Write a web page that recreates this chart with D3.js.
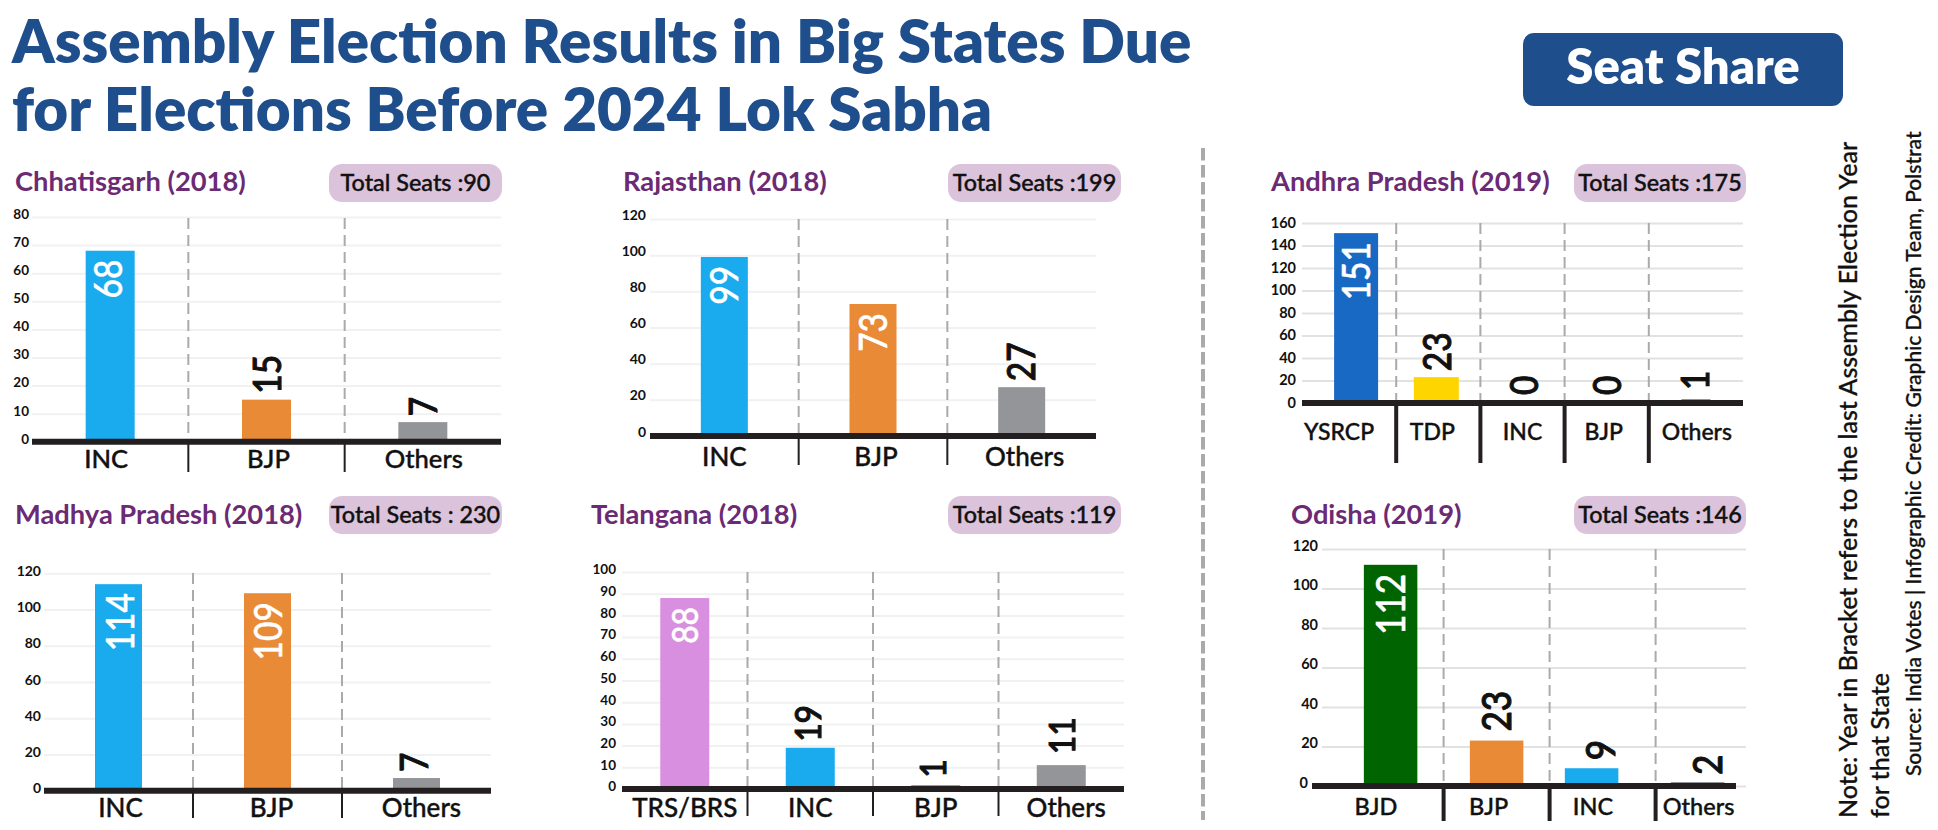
<!DOCTYPE html>
<html>
<head>
<meta charset="utf-8">
<script src="https://cdn.jsdelivr.net/npm/d3@7"></script>
<style>
body { margin: 0; background: #fff; }
svg { display: block; }
text { font-family: Lato, sans-serif; }
</style>
</head>
<body>
<script>
var w = 1938;
var h = 830;

//Seats per party, one set of arrays per state
var chhattisgarhParties = ["INC", "BJP", "Others"];
var chhattisgarhSeats = [68, 15, 7];
var chhattisgarhTicks = [0, 10, 20, 30, 40, 50, 60, 70, 80];

var rajasthanParties = ["INC", "BJP", "Others"];
var rajasthanSeats = [99, 73, 27];
var rajasthanTicks = [0, 20, 40, 60, 80, 100, 120];

var andhraParties = ["YSRCP", "TDP", "INC", "BJP", "Others"];
var andhraSeats = [151, 23, 0, 0, 1];
var andhraTicks = [0, 20, 40, 60, 80, 100, 120, 140, 160];

var madhyaParties = ["INC", "BJP", "Others"];
var madhyaSeats = [114, 109, 7];
var madhyaTicks = [0, 20, 40, 60, 80, 100, 120];

var telanganaParties = ["TRS/BRS", "INC", "BJP", "Others"];
var telanganaSeats = [88, 19, 1, 11];
var telanganaTicks = [0, 10, 20, 30, 40, 50, 60, 70, 80, 90, 100];

var odishaParties = ["BJD", "BJP", "INC", "Others"];
var odishaSeats = [112, 23, 9, 2];
var odishaTicks = [0, 20, 40, 60, 80, 100, 120];

var partyColors = {
    INC: "#1aaaee", BJP: "#e88a36", Others: "#939598", YSRCP: "#1769c4",
    TDP: "#ffd500", "TRS/BRS": "#d98fe0", BJD: "#006400"
};

var titleLines = ["Assembly Election Results in Big States Due", "for Elections Before 2024 Lok Sabha"];
var noteLines = [
    "Note: Year in Bracket refers to the last Assembly Election Year",
    "for that State",
    "Source: India Votes | Infographic Credit: Graphic Design Team, Polstrat"
];

//Layout of each small chart
var panels = [
    { title: "Chhatisgarh (2018)", total: "Total Seats :90", parties: chhattisgarhParties, seats: chhattisgarhSeats, ticks: chhattisgarhTicks,
      titleX: 15, titleY: 191, pill: [329, 502, 164], band: [32, 501], axis: [32, 501], grid: [32, 501], y: [441.8, 217], max: 80,
      barW: 49, fs: 38, tickFs: 13.5, tickX: 29, tickDy: -3.5, gridColor: "#f1f1f1", ruleW: 2, ruleEnd: 472, labelY: 459, labelFs: 25.6,
      labelDx: [-4, 2, 1], valDx: [-2, 1, 0], dashFrom: 218 },
    { title: "Rajasthan (2018)", total: "Total Seats :199", parties: rajasthanParties, seats: rajasthanSeats, ticks: rajasthanTicks,
      titleX: 623, titleY: 191, pill: [948, 1121, 164], band: [650, 1096], axis: [650, 1096], grid: [650, 1096], y: [436, 219], max: 120,
      barW: 47, fs: 38, tickFs: 14, tickX: 646, tickDy: -5, gridColor: "#f1f1f1", ruleW: 2, ruleEnd: 465, labelY: 457, labelFs: 26,
      labelDx: [0, 3, 3], valDx: [0, 0, 0], dashFrom: 219 },
    { title: "Andhra Pradesh (2019)", total: "Total Seats :175", parties: andhraParties, seats: andhraSeats, ticks: andhraTicks,
      titleX: 1271, titleY: 191, pill: [1574, 1746, 164], band: [1312, 1733], axis: [1302, 1743], grid: [1302, 1743], y: [403, 223], max: 160,
      barW: [44, 45, 44, 44, 29], fs: 38, tickFs: 14.5, tickX: 1296, tickDy: -1, gridColor: "#e2e2e2", ruleW: 4, ruleEnd: 463, labelY: 431, labelFs: 23,
      labelDx: [-15, -6, 0, -3, 6], valDx: [2, -1, 2, 1, 4], barDx: [2, -2, 0, 0, 5], valGap: [6, 6, 8, 8, 12], dashFrom: 223 },
    { title: "Madhya Pradesh (2018)", total: "Total Seats : 230", parties: madhyaParties, seats: madhyaSeats, ticks: madhyaTicks,
      titleX: 15, titleY: 524, pill: [329, 502, 496], band: [44, 491], axis: [44, 491], grid: [44, 491], y: [790.7, 573.3], max: 120,
      barW: 47, fs: 38, tickFs: 14, tickX: 41, tickDy: -3, gridColor: "#f1f1f1", ruleW: 2, ruleEnd: 818, labelY: 808, labelFs: 26,
      labelDx: [2, 4, 5], valDx: [2, 1, -2], dashFrom: 573 },
    { title: "Telangana (2018)", total: "Total Seats :119", parties: telanganaParties, seats: telanganaSeats, ticks: telanganaTicks,
      titleX: 591, titleY: 524, pill: [948, 1121, 496], band: [622, 1124], axis: [622, 1124], grid: [622, 1124], y: [789, 572], max: 100,
      barW: 49, fs: 36, tickFs: 13.5, tickX: 616, tickDy: -3, gridColor: "#f1f1f1", ruleW: 2, ruleEnd: 816, labelY: 808, labelFs: 26,
      labelDx: [0, 0, 0, 5], valDx: [0, -2, -3, 1], valGap: [6, 6, 9, 11], dashFrom: 572 },
    { title: "Odisha (2019)", total: "Total Seats :146", parties: odishaParties, seats: odishaSeats, ticks: odishaTicks,
      titleX: 1291, titleY: 524, pill: [1574, 1746, 496], band: [1337.6, 1761.6], axis: [1312, 1736], grid: [1322, 1746], y: [786, 549], max: 120,
      barW: 53.5, fs: 40, tickFs: 14.5, tickX: 1318, tickDy: -4, gridColor: "#e2e2e2", ruleW: 4, ruleEnd: 821, labelY: 806, labelFs: 23.5,
      labelDx: [-14.6, -8, -9.6, -10], valDx: [0, 0, -2, -1], barDx: [0, 0, -11, -11], valGap: [6, 9, 8, 7], zeroDx: -10, dashFrom: 549 }
];

var svg = d3.select("body")
    .append("svg")
    .attr("width", w)
    .attr("height", h);

//Headline
svg.selectAll("text.headline")
    .data(titleLines)
    .enter()
    .append("text")
    .attr("class", "headline")
    .attr("x", 12)
    .attr("y", function (d, i) { return 63 + i * 68; })
    .attr("font-size", 60.1)
    .attr("font-weight", 800)
    .attr("fill", "#1f4e8c")
    .text(function (d) { return d; });

//Seat Share button
svg.append("rect")
    .attr("x", 1523)
    .attr("y", 33)
    .attr("width", 320)
    .attr("height", 73)
    .attr("rx", 11)
    .attr("fill", "#1f4e8c");
svg.append("text")
    .attr("x", 1683)
    .attr("y", 84)
    .attr("text-anchor", "middle")
    .attr("font-size", 49)
    .attr("font-weight", 800)
    .attr("fill", "#fff")
    .text("Seat Share");

//Centre divider
svg.append("line")
    .attr("x1", 1203)
    .attr("x2", 1203)
    .attr("y1", 148)
    .attr("y2", 820)
    .attr("stroke", "#aaa")
    .attr("stroke-width", 4)
    .attr("stroke-dasharray", "12.5,4.5");

//Notes down the right edge
var noteSpots = [[1857, 818], [1889, 818], [1921, 776]];
svg.selectAll("text.note")
    .data(noteLines)
    .enter()
    .append("text")
    .attr("class", "note")
    .attr("transform", function (d, i) {
        return "translate(" + noteSpots[i][0] + "," + noteSpots[i][1] + ") rotate(-90)";
    })
    .attr("font-size", function (d, i) { return i == 2 ? 21 : 25; })
    .attr("font-weight", 500)
    .attr("fill", "#111")
    .attr("stroke", "#111")
    .attr("stroke-width", 0.3)
    .text(function (d) { return d; });

//One small bar chart per state
panels.forEach(function (p) {
    var g = svg.append("g");

    g.append("text")
        .attr("x", p.titleX)
        .attr("y", p.titleY)
        .attr("font-size", 27.3)
        .attr("font-weight", 700)
        .attr("fill", "#6b2a74")
        .text(p.title);

    g.append("rect")
        .attr("x", p.pill[0])
        .attr("y", p.pill[2])
        .attr("width", p.pill[1] - p.pill[0])
        .attr("height", 38)
        .attr("rx", 13)
        .attr("fill", "#dcc3dc");
    g.append("text")
        .attr("x", (p.pill[0] + p.pill[1]) / 2)
        .attr("y", p.pill[2] + 27)
        .attr("text-anchor", "middle")
        .attr("font-size", 23.4)
        .attr("font-weight", 500)
        .attr("fill", "#111")
        .attr("stroke", "#111")
        .attr("stroke-width", 0.4)
        .text(p.total);

    var xScale = d3.scaleBand().domain(p.parties).range(p.band);
    var yScale = d3.scaleLinear().domain([0, p.max]).range(p.y);

    //Gridlines and tick labels
    var yaxis = d3.axisLeft(yScale)
        .tickValues(p.ticks)
        .tickFormat(d3.format("d"))
        .tickSize(-(p.grid[1] - p.grid[0]));
    var yg = g.append("g")
        .attr("transform", "translate(" + p.grid[0] + ",0)")
        .call(yaxis);
    yg.select(".domain").remove();
    yg.selectAll(".tick line")
        .attr("stroke", p.gridColor)
        .attr("stroke-width", 2);
    yg.selectAll(".tick text")
        .attr("x", function (d) { return p.tickX - p.grid[0] + (d == 0 && p.zeroDx ? p.zeroDx : 0); })
        .attr("dy", 0)
        .attr("y", p.tickDy + p.tickFs * 0.36)
        .attr("font-family", "Lato, sans-serif")
        .attr("font-size", p.tickFs)
        .attr("font-weight", 700)
        .attr("fill", "#111");

    //Dashed dividers above the axis, solid below it
    var dividers = p.parties.slice(1);
    g.selectAll("line.dash")
        .data(dividers)
        .enter()
        .append("line")
        .attr("class", "dash")
        .attr("x1", function (d) { return xScale(d); })
        .attr("x2", function (d) { return xScale(d); })
        .attr("y1", p.dashFrom)
        .attr("y2", p.y[0])
        .attr("stroke", "#aaa")
        .attr("stroke-width", 2)
        .attr("stroke-dasharray", "11,6");
    g.selectAll("line.rule")
        .data(dividers)
        .enter()
        .append("line")
        .attr("class", "rule")
        .attr("x1", function (d) { return xScale(d); })
        .attr("x2", function (d) { return xScale(d); })
        .attr("y1", p.y[0])
        .attr("y2", p.ruleEnd)
        .attr("stroke", "#231f20")
        .attr("stroke-width", p.ruleW);

    //Bars, tiny values keep a sliver above the baseline
    var barWidth = function (i) { return Array.isArray(p.barW) ? p.barW[i] : p.barW; };
    var barCentre = function (d, i) {
        return xScale(d) + xScale.bandwidth() / 2 + (p.barDx ? p.barDx[i] : 0);
    };
    var barTop = function (i) {
        var v = p.seats[i];
        return v > 0 ? Math.min(yScale(v), yScale(0) - 4) : yScale(0);
    };
    g.selectAll("rect.bar")
        .data(p.parties)
        .enter()
        .append("rect")
        .attr("class", "bar")
        .attr("x", function (d, i) { return barCentre(d, i) - barWidth(i) / 2; })
        .attr("y", function (d, i) { return barTop(i); })
        .attr("width", function (d, i) { return barWidth(i); })
        .attr("height", function (d, i) { return yScale(0) - barTop(i); })
        .attr("fill", function (d) { return partyColors[d]; });

    //Baseline
    g.append("line")
        .attr("x1", p.axis[0])
        .attr("x2", p.axis[1])
        .attr("y1", p.y[0])
        .attr("y2", p.y[0])
        .attr("stroke", "#231f20")
        .attr("stroke-width", 6);

    //Party names
    g.selectAll("text.party")
        .data(p.parties)
        .enter()
        .append("text")
        .attr("class", "party")
        .attr("x", function (d, i) { return xScale(d) + xScale.bandwidth() / 2 + p.labelDx[i]; })
        .attr("y", p.labelY + 8.5)
        .attr("text-anchor", "middle")
        .attr("font-size", p.labelFs)
        .attr("font-weight", 500)
        .attr("fill", "#111")
        .attr("stroke", "#111")
        .attr("stroke-width", 0.4)
        .text(function (d) { return d; });

    //Rotated seat counts: inside tall bars, above short ones
    g.selectAll("text.value")
        .data(p.seats)
        .enter()
        .append("text")
        .attr("class", "value")
        .attr("transform", function (d, i) {
            var cx = xScale(p.parties[i]) + xScale.bandwidth() / 2 + p.valDx[i];
            var inside = d > 40;
            var gap = p.valGap ? p.valGap[i] : 6;
            var cy = yScale(d) + (inside ? 9 : -gap);
            return "translate(" + cx + "," + cy + ") rotate(-90) scale(0.88,1)";
        })
        .attr("y", p.fs * 0.36)
        .attr("text-anchor", function (d) { return d > 40 ? "end" : "start"; })
        .attr("font-size", p.fs)
        .attr("font-weight", 500)
        .attr("fill", function (d) { return d > 40 ? "#fff" : "#111"; })
        .attr("stroke", function (d) { return d > 40 ? "#fff" : "#111"; })
        .attr("stroke-width", function (d) { return d > 40 ? 0.5 : 1; })
        .text(function (d) { return d; });
});
</script>
</body>
</html>
